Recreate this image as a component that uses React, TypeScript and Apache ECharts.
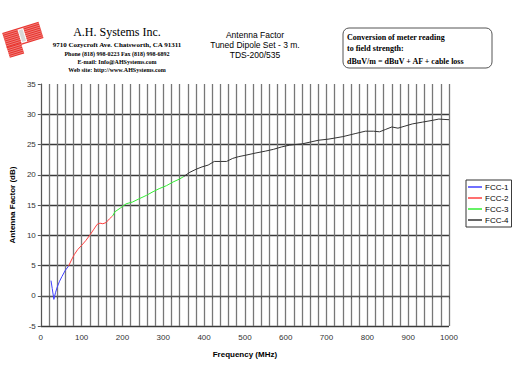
import React, { useEffect, useRef } from "react";
import * as echarts from "echarts";

const seriesNames = ["FCC-1", "FCC-2", "FCC-3", "FCC-4"];
const seriesColors = ["#4040ff", "#ff4040", "#33ee33", "#333333"];

const fcc1: [number, number][] = [
  [25, 2.5], [28, 1.2], [32, -0.6], [36, 0.5], [40, 1.4], [46, 2.4], [52, 3.2], [60, 4.2], [68, 4.9],
];
const fcc2: [number, number][] = [
  [68, 4.9], [75, 5.9], [82, 6.8], [90, 7.6], [101, 8.4], [110, 9.1], [121, 10.1], [130, 11.0],
  [138, 11.8], [145, 12.0], [152, 11.9], [160, 12.1], [168, 12.7], [176, 13.2],
];
const fcc3: [number, number][] = [
  [176, 13.2], [182, 13.9], [195, 14.5], [209, 15.2], [225, 15.5], [240, 16.0], [259, 16.6],
  [275, 17.2], [290, 17.7], [308, 18.2], [324, 18.8], [340, 19.3], [350, 19.7],
];
const fcc4: [number, number][] = [
  [350, 19.7], [365, 20.4], [380, 20.9], [395, 21.3], [410, 21.6], [425, 22.2], [440, 22.2],
  [455, 22.2], [470, 22.7], [485, 23.0], [500, 23.2], [527, 23.6], [550, 23.9], [570, 24.2],
  [590, 24.6], [610, 24.9], [640, 25.1], [660, 25.4], [680, 25.7], [706, 25.9], [740, 26.3],
  [770, 26.8], [795, 27.2], [815, 27.2], [830, 27.1], [845, 27.5], [860, 27.9], [875, 27.7],
  [890, 28.0], [910, 28.4], [935, 28.7], [960, 29.0], [975, 29.2], [1000, 29.1],
];
const seriesData = [fcc1, fcc2, fcc3, fcc4];

const companyLines = [
  "9710 Cozycroft Ave. Chatsworth, CA 91311",
  "Phone (818) 998-0223 Fax (818) 998-6892",
  "E-mail: Info@AHSystems.com",
  "Web site: http://www.AHSystems.com",
];
const titleLines = ["Antenna Factor", "Tuned Dipole Set - 3 m.", "TDS-200/535"];
const boxLines = ["Conversion of meter reading", "to field strength:", "dBuV/m = dBuV + AF + cable loss"];

function hatchRect(x: number, y: number, w: number, h: number) {
  const children: any[] = [
    { type: "rect", shape: { x, y, width: w, height: h }, style: { fill: "#e8342e" } },
  ];
  for (let yy = y + 1.5; yy < y + h; yy += 2) {
    children.push({
      type: "line",
      shape: { x1: x, y1: yy, x2: x + w, y2: yy },
      style: { stroke: "rgba(255,255,255,0.55)", lineWidth: 0.6 },
    });
  }
  return children;
}

export default function App() {
  const ref = useRef<HTMLDivElement>(null);
  useEffect(() => {
    if (!ref.current) return;
    const chart = echarts.init(ref.current, undefined, { renderer: "svg" });
    const sans = "'Liberation Sans', Arial, sans-serif";
    const serif = "'Liberation Serif', 'Times New Roman', serif";

    const logoChildren = [
      ...hatchRect(-19, -9, 38, 17),
      ...hatchRect(-19, 6, 15, 11),
      { type: "rect", shape: { x: -3, y: -7, width: 5, height: 13 }, style: { fill: "#d8d8d8", stroke: "#fff", lineWidth: 1 } },
    ];

    const graphics: any[] = [
      { type: "group", x: 23, y: 36, rotation: 0.3, children: logoChildren },
      {
        type: "text",
        style: { text: "A.H. Systems Inc.", x: 117, y: 32, font: `12px ${serif}`, fill: "#000", textAlign: "center", textVerticalAlign: "middle" },
      },
      ...companyLines.map((t, i) => ({
        type: "text",
        style: {
          text: t,
          x: 117,
          y: [45, 54, 62, 70][i],
          font: i === 0 ? `bold 7px ${serif}` : `bold 6px ${serif}`,
          fill: "#000",
          textAlign: "center",
          textVerticalAlign: "middle",
        },
      })),
      ...titleLines.map((t, i) => ({
        type: "text",
        style: {
          text: t,
          x: 255,
          y: [35, 45, 54.5][i],
          font: `8.5px ${sans}`,
          fill: "#000",
          textAlign: "center",
          textVerticalAlign: "middle",
        },
      })),
      {
        type: "rect",
        shape: { x: 343, y: 28, width: 149, height: 40, r: 6 },
        style: { fill: "#fff", stroke: "#555", lineWidth: 1 },
      },
      ...boxLines.map((t, i) => ({
        type: "text",
        style: {
          text: t,
          x: 347,
          y: [37, 48.5, 61][i],
          font: `bold 8px ${serif}`,
          fill: "#000",
          textAlign: "left",
          textVerticalAlign: "middle",
        },
      })),
    ];

    chart.setOption({
      animation: false,
      backgroundColor: "#fff",
      graphic: graphics,
      grid: { left: 37, right: 63, top: 84, bottom: 56, containLabel: false },
      legend: {
        orient: "vertical",
        left: 466,
        top: 180,
        data: seriesNames,
        icon: "rect",
        itemWidth: 14,
        itemHeight: 1.5,
        itemGap: 3,
        padding: [3, 3, 3, 2],
        borderColor: "#333",
        borderWidth: 1,
        textStyle: { fontSize: 8, fontFamily: sans, color: "#000", padding: [0, 0, 0, -2] },
      },
      xAxis: {
        type: "value",
        min: 0,
        max: 1000,
        interval: 100,
        name: "Frequency (MHz)",
        nameLocation: "middle",
        nameGap: 24,
        nameTextStyle: { fontSize: 8, fontWeight: "bold", fontFamily: sans, color: "#000" },
        axisLine: { show: true, lineStyle: { color: "#555", width: 1 } },
        axisTick: { show: true, length: 3, lineStyle: { color: "#555" } },
        minorTick: { show: true, splitNumber: 5, length: 3, lineStyle: { color: "#555" } },
        axisLabel: { fontSize: 8, fontFamily: sans, color: "#333", margin: 7, formatter: (v: number) => String(v) },
        splitLine: { show: true, lineStyle: { color: "#777", width: 1.3 } },
        minorSplitLine: { show: true, lineStyle: { color: "#777", width: 1.3 } },
      },
      yAxis: {
        type: "value",
        min: -5,
        max: 35,
        interval: 5,
        name: "Antenna Factor (dB)",
        nameLocation: "middle",
        nameGap: 21,
        nameTextStyle: { fontSize: 8, fontWeight: "bold", fontFamily: sans, color: "#000" },
        axisLine: { show: true, lineStyle: { color: "#555", width: 1 } },
        axisTick: { show: true, length: 3, lineStyle: { color: "#555" } },
        axisLabel: { fontSize: 8, fontFamily: sans, color: "#333", margin: 5, formatter: (v: number) => String(v) },
        splitLine: { show: true, showMaxLine: false, lineStyle: { color: "#3a3a3a", width: 1.3 } },
      },
      series: seriesNames.map((name, i) => ({
        name,
        type: "line",
        data: seriesData[i],
        symbol: "none",
        color: seriesColors[i],
        lineStyle: { color: seriesColors[i], width: 1 },
        z: 3,
      })),
    });
    return () => chart.dispose();
  }, []);
  return (
    <div
      ref={ref}
      style={{ position: "fixed", left: 0, top: 0, width: 512, height: 382, background: "#fff" }}
    />
  );
}
